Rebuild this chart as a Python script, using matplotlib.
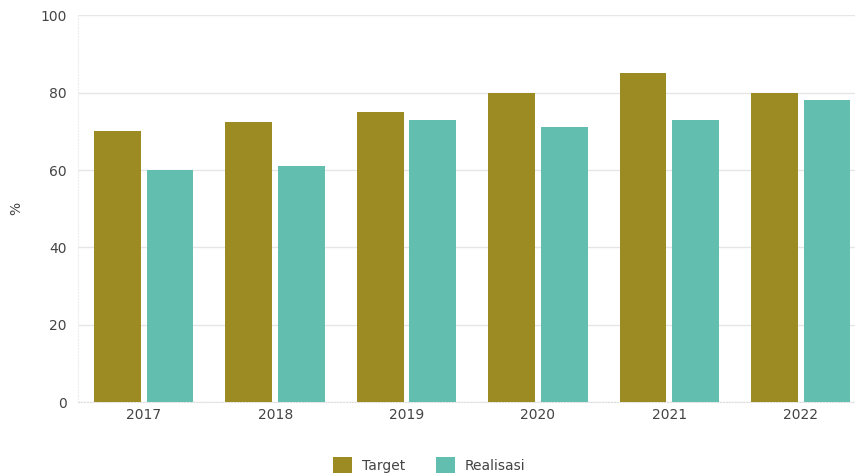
import matplotlib.pyplot as plt
import numpy as np

years = ['2017', '2018', '2019', '2020', '2021', '2022']
target = [70, 72.5, 75, 80, 85, 80]
realisasi = [60, 61, 73, 71, 73, 78]

fig = plt.figure(figsize=(8.58, 4.76), dpi=100)
ax = fig.add_axes([0.091, 0.155, 0.905, 0.813])

x = np.arange(len(years))
w = 0.356
off = 0.2
ax.bar(x - off, target, width=w, color='#9C8A22', label='Target', zorder=3)
ax.bar(x + off, realisasi, width=w, color='#62BEAE', label='Realisasi', zorder=3)

ax.set_ylim(0, 100)
ax.set_xlim(-0.5, 5.41)
ax.set_yticks([0, 20, 40, 60, 80, 100])
ax.set_xticks(x)
ax.set_xticklabels(years)
ax.tick_params(axis='both', length=0, labelsize=10, labelcolor='#444444')
ax.tick_params(axis='y', pad=8)
ax.tick_params(axis='x', pad=4)
ax.yaxis.grid(True, color='#e6e6e6', linewidth=1, zorder=0)
for s in ['top', 'right']:
    ax.spines[s].set_visible(False)
ax.spines['left'].set_color('#eeeeee')
ax.spines['left'].set_linestyle(':')
ax.spines['bottom'].set_color('#dddddd')
ax.spines['bottom'].set_linestyle(':')
ax.set_ylabel('%', fontsize=10, color='#444444')
ax.yaxis.set_label_coords(-0.07, 0.5)

ax.legend(loc='upper center', bbox_to_anchor=(0.452, -0.11), ncol=2, frameon=False,
          fontsize=10, handlelength=1.4, handleheight=1.4, columnspacing=2.2,
          handletextpad=0.7, labelcolor='#444444')

fig.savefig('out.png', dpi=100)
